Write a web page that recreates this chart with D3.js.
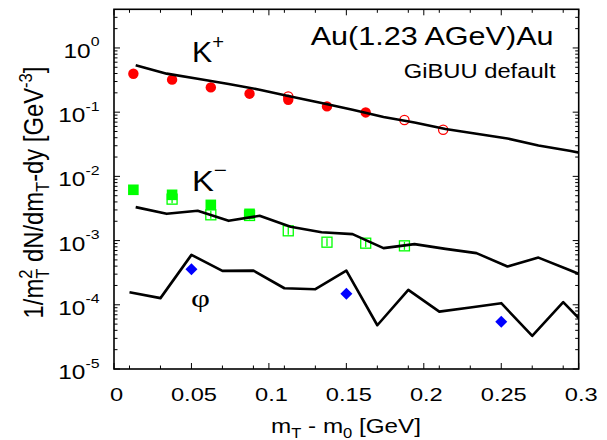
<!DOCTYPE html>
<html><head><meta charset="utf-8">
<script src="https://cdn.jsdelivr.net/npm/d3@7"></script>
<style>body{margin:0;background:#fff} svg{display:block} text{font-family:"Liberation Sans",Arial,Helvetica,sans-serif;fill:#000}</style>
</head><body><svg id="c" width="607" height="440"></svg>
<script>
// ---- data ----
const kplusFilledX = [0.0125,0.0375,0.0625,0.0875,0.1125,0.1375,0.1625];
const kplusFilledY = [0.397,0.321,0.243,0.194,0.156,0.123,0.099];
const kplusOpenX = [0.1125,0.1875,0.2125];
const kplusOpenY = [0.176,0.0754,0.0532];
const kminusFilledX = [0.0125,0.0375,0.0625,0.0875];
const kminusFilledY = [6.18e-3,5.16e-3,3.6e-3,2.61e-3];
const kminusOpenX = [0.0375,0.0625,0.0875,0.1125,0.1375,0.1625,0.1875];
const kminusOpenY = [4.42e-3,2.52e-3,2.46e-3,1.42e-3,9.44e-4,9.11e-4,8.28e-4];
const phiDataX = [0.05,0.15,0.25];
const phiDataY = [3.58e-4,1.48e-4,5.46e-5];
const modelKX = [0.014,0.034,0.054,0.074,0.094,0.114,0.134,0.154,0.174,0.194,0.214,0.234,0.254,0.274,0.294,0.314];
const kplusModelY = [0.536,0.398,0.332,0.275,0.224,0.176,0.139,0.109,0.084,0.0692,0.0546,0.0461,0.039,0.0303,0.025,0.0202];
const kminusModelY = [3.32e-3,2.61e-3,2.91e-3,2.03e-3,2.43e-3,1.64e-3,1.35e-3,1.26e-3,7.62e-4,8.8e-4,7.43e-4,6.37e-4,3.94e-4,5.43e-4,3.48e-4,2.19e-4];
const phiModelX = [0.01,0.03,0.05,0.07,0.09,0.11,0.13,0.15,0.17,0.19,0.21,0.23,0.25,0.27,0.29,0.31];
const phiModelY = [1.57e-4,1.27e-4,5.99e-4,3.37e-4,3.41e-4,1.81e-4,1.75e-4,3.41e-4,4.8e-5,1.71e-4,7.82e-5,9.1e-5,1.06e-4,3.27e-5,1.1e-4,3.48e-5];
const xTickValues = [0,0.05,0.1,0.15,0.2,0.25,0.3];
const xTickLabels = ["0","0.05","0.1","0.15","0.2","0.25","0.3"];
const xMinorTicks = [0.01,0.03,0.07,0.09,0.11,0.13,0.17,0.19,0.21,0.23,0.27,0.29];
const yTickValues = [1e-5,1e-4,1e-3,1e-2,1e-1,1];
const yTickExps = ["-5","-4","-3","-2","-1","0"];

// ---- layout ----
const W = 607, H = 440;
const L = 114, R = 578.7, T = 9.3, B = 369;
const svg = d3.select("#c");
const x = d3.scaleLinear().domain([0,0.3]).range([L,R]);
const y = d3.scaleLog().domain([1e-5,4]).range([B,T]);

svg.append("defs").append("clipPath").attr("id","clip")
  .append("rect").attr("x",L).attr("y",T).attr("width",R-L).attr("height",B-T);

// ticks (inward, all four sides)
const tk = svg.append("g").attr("stroke","#000").attr("stroke-width",1);
const yMinor = [];
yTickValues.forEach(v => { for (let k=2;k<=9;k++){ const m=v*k; if (m<4) yMinor.push(m);} });
yTickValues.forEach(v => {
  tk.append("line").attr("x1",L).attr("x2",L+6).attr("y1",y(v)).attr("y2",y(v));
  tk.append("line").attr("x1",R).attr("x2",R-6).attr("y1",y(v)).attr("y2",y(v));
});
yMinor.forEach(v => {
  tk.append("line").attr("x1",L).attr("x2",L+3.5).attr("y1",y(v)).attr("y2",y(v));
  tk.append("line").attr("x1",R).attr("x2",R-3.5).attr("y1",y(v)).attr("y2",y(v));
});
xTickValues.forEach(v => {
  tk.append("line").attr("x1",x(v)).attr("x2",x(v)).attr("y1",B).attr("y2",B-6);
  tk.append("line").attr("x1",x(v)).attr("x2",x(v)).attr("y1",T).attr("y2",T+6);
});
xMinorTicks.forEach(v => {
  tk.append("line").attr("x1",x(v)).attr("x2",x(v)).attr("y1",B).attr("y2",B-3.5);
  tk.append("line").attr("x1",x(v)).attr("x2",x(v)).attr("y1",T).attr("y2",T+3.5);
});

// markers
const mk = svg.append("g");
mk.selectAll(".kpf").data(kplusFilledX).join("circle")
  .attr("cx",(d)=>x(d)).attr("cy",(d,i)=>y(kplusFilledY[i])).attr("r",5.2).attr("fill","#ff0000");
mk.selectAll(".kpo").data(kplusOpenX).join("circle")
  .attr("cx",(d)=>x(d)).attr("cy",(d,i)=>y(kplusOpenY[i])).attr("r",4.6)
  .attr("fill","none").attr("stroke","#ff0000").attr("stroke-width",1.3);
mk.selectAll(".kmf").data(kminusFilledX).join("rect")
  .attr("x",(d)=>x(d)-5.3).attr("y",(d,i)=>y(kminusFilledY[i])-5.3).attr("width",10.6).attr("height",10.6).attr("fill","#00ff00");
const kmo = mk.append("g").attr("stroke","#00ff00").attr("stroke-width",1.3).attr("fill","none");
kminusOpenX.forEach((d,i) => {
  const cx = x(d), cy = y(kminusOpenY[i]);
  kmo.append("rect").attr("x",cx-5).attr("y",cy-5).attr("width",10).attr("height",10);
  kmo.append("line").attr("x1",cx).attr("x2",cx).attr("y1",cy-4).attr("y2",cy+4);
});
mk.selectAll(".phd").data(phiDataX).join("path")
  .attr("d",(d,i)=>{const cx=x(d), cy=y(phiDataY[i]), r=6; return `M${cx},${cy-r}L${cx+r},${cy}L${cx},${cy+r}L${cx-r},${cy}Z`;})
  .attr("fill","#0000ff");

// model lines
const line = d3.line().x(d=>x(d[0])).y(d=>y(d[1]));
const lg = svg.append("g").attr("clip-path","url(#clip)").attr("fill","none").attr("stroke","#000")
  .attr("stroke-width",2.6).attr("stroke-linejoin","round");
lg.append("path").attr("d", line(modelKX.map((v,i)=>[v,kplusModelY[i]])));
lg.append("path").attr("d", line(modelKX.map((v,i)=>[v,kminusModelY[i]])));
lg.append("path").attr("d", line(phiModelX.map((v,i)=>[v,phiModelY[i]])));

// frame
svg.append("rect").attr("x",L).attr("y",T).attr("width",R-L).attr("height",B-T)
  .attr("fill","none").attr("stroke","#000").attr("stroke-width",1.6);

// text helper: parts with optional size/dy/dx, fitted to a target width
function txt(x0, y0, anchor, fs, parts, targetW, opts={}) {
  const g = svg.append("g");
  const t = g.append("text").attr("text-anchor",anchor).attr("font-size",fs);
  if (opts.family) t.style("font-family", opts.family);
  parts.forEach(p => {
    const s = t.append("tspan").text(p.t);
    if (p.fs) s.attr("font-size",p.fs);
    if (p.dy) s.attr("dy",p.dy);
    if (p.dx) s.attr("dx",p.dx);
  });
  const w = t.node().getBBox().width;
  const sx = targetW ? targetW / w : (opts.sx || 1);
  if (opts.rotate) g.attr("transform",`translate(${x0},${y0}) rotate(-90) scale(${sx},${opts.sy||1})`);
  else g.attr("transform",`translate(${x0},${y0}) scale(${sx},1)`);
  return sx;
}

// tick labels
const xsx = (function(){ const g=svg.append("text").attr("font-size",17.5).text("0.05"); const w=g.node().getBBox().width; g.remove(); return 46/w; })();
xTickValues.forEach((v,i) => txt(x(v)+2.5, 400.7, "middle", 17.5, [{t:xTickLabels[i]}], null, {sx:xsx}));
const ysx = (function(){ const g=svg.append("text").attr("font-size",20); g.append("tspan").text("10"); g.append("tspan").attr("font-size",13).text("0"); const w=g.node().getBBox().width; g.remove(); return 36/w; })();
yTickValues.forEach((v,i) => txt(99.5, y(v)+10, "end", 20, [{t:"10"},{t:yTickExps[i],fs:13,dy:-11.5}], null, {sx:ysx}));

// axis titles
txt(346, 433.3, "middle", 20.5, [{t:"m"},{t:"T",fs:14,dy:5},{t:" - m",dy:-5},{t:"0",fs:14,dy:5},{t:" [GeV]",dy:-5}], 150);
txt(43, 192.5, "middle", 23, [{t:"1/m"},{t:"2",fs:16,dy:-9},{t:"T",fs:16,dx:-8.9,dy:14},{t:" dN/dm",dy:-5},{t:"T",fs:16,dy:5},{t:"-dy [GeV",dy:-5},{t:"-3",fs:16,dy:-9},{t:"]",dy:9}], 252, {rotate:true, sy:1.2});

// annotations
txt(553.5, 45, "end", 25.5, [{t:"Au(1.23 AGeV)Au"}], 243);
txt(555.5, 78.3, "end", 21, [{t:"GiBUU default"}], 152);
txt(192, 61.7, "start", 30, [{t:"K"},{t:"+",fs:20,dy:-13}], 32);
txt(192, 191, "start", 29, [{t:"K"},{t:"\u2212",fs:20,dy:-14}], 35);
txt(191, 307, "start", 26, [{t:"\u03C6"}], 19, {family:'"Liberation Serif","Times New Roman",serif'});
</script></body></html>
